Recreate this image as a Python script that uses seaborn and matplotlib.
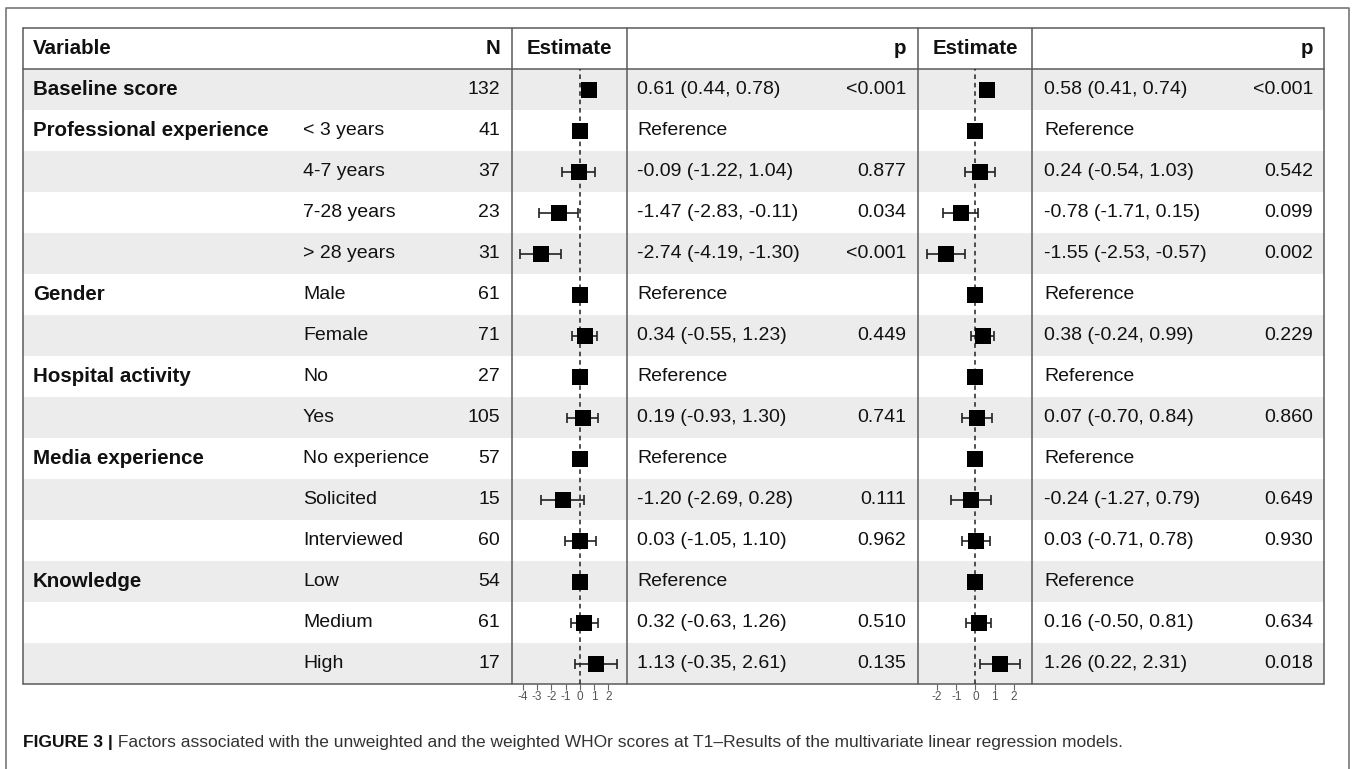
import numpy as np
import pandas as pd
import matplotlib
matplotlib.use('Agg')
import matplotlib.pyplot as plt
import seaborn as sns

# dados da tabela
variaveis = ['Baseline score', 'Professional experience', '', '', '', 'Gender', '',
             'Hospital activity', '', 'Media experience', '', '', 'Knowledge', '', '']
niveis = ['', '< 3 years', '4-7 years', '7-28 years', '> 28 years', 'Male', 'Female',
          'No', 'Yes', 'No experience', 'Solicited', 'Interviewed', 'Low', 'Medium', 'High']
n = [132, 41, 37, 23, 31, 61, 71, 27, 105, 57, 15, 60, 54, 61, 17]

# modelo 1 (nao ponderado)
est1 = [0.61, 0, -0.09, -1.47, -2.74, 0, 0.34, 0, 0.19, 0, -1.20, 0.03, 0, 0.32, 1.13]
lo1 = [0.44, np.nan, -1.22, -2.83, -4.19, np.nan, -0.55, np.nan, -0.93, np.nan, -2.69, -1.05, np.nan, -0.63, -0.35]
hi1 = [0.78, np.nan, 1.04, -0.11, -1.30, np.nan, 1.23, np.nan, 1.30, np.nan, 0.28, 1.10, np.nan, 1.26, 2.61]
p1 = ['<0.001', '', '0.877', '0.034', '<0.001', '', '0.449', '', '0.741', '', '0.111', '0.962', '', '0.510', '0.135']

# modelo 2 (ponderado)
est2 = [0.58, 0, 0.24, -0.78, -1.55, 0, 0.38, 0, 0.07, 0, -0.24, 0.03, 0, 0.16, 1.26]
lo2 = [0.41, np.nan, -0.54, -1.71, -2.53, np.nan, -0.24, np.nan, -0.70, np.nan, -1.27, -0.71, np.nan, -0.50, 0.22]
hi2 = [0.74, np.nan, 1.03, 0.15, -0.57, np.nan, 0.99, np.nan, 0.84, np.nan, 0.79, 0.78, np.nan, 0.81, 2.31]
p2 = ['<0.001', '', '0.542', '0.099', '0.002', '', '0.229', '', '0.860', '', '0.649', '0.930', '', '0.634', '0.018']

ticks1 = [-4, -3, -2, -1, 0, 1, 2]
ticks2 = [-2, -1, 0, 1, 2]

caption_bold = 'FIGURE 3 |'
caption = ' Factors associated with the unweighted and the weighted WHOr scores at T1\u2013Results of the multivariate linear regression models.'

sns.set_theme(style='white')
plt.rcParams['font.family'] = ['Liberation Sans', 'DejaVu Sans']

W, H = 1355, 769
fig = plt.figure(figsize=(W / 100, H / 100), dpi=100)
bg = fig.add_axes([0, 0, 1, 1])
bg.set_xlim(0, W)
bg.set_ylim(H, 0)
bg.axis('off')

# geometria da tabela (pixels)
top, head_h, row_h = 28, 41, 41
nrows = len(n)
y0 = top + head_h
bottom = y0 + nrows * row_h
left, right = 23, 1324
c_est1, c_txt1, c_est2, c_txt2 = 512, 627, 918, 1032
linecol = '#5a5a5a'
txtcol = '#111111'
fs = 14
fsb = 14.8

# moldura externa
bg.plot([6, 6, 1349, 1349], [H, 8, 8, H], color='#777777', lw=1.2)

# faixas cinza alternadas
for i in range(0, nrows, 2):
    bg.add_patch(plt.Rectangle((left, y0 + i * row_h), right - left, row_h,
                               facecolor='#ececec', edgecolor='none', zorder=0))

# linhas da tabela
for x in [left, c_est1, c_txt1, c_est2, c_txt2, right]:
    bg.plot([x, x], [top, bottom], color=linecol, lw=1.1, zorder=2)
for y in [top, y0, bottom]:
    bg.plot([left, right], [y, y], color=linecol, lw=1.1, zorder=2)

# cabecalho
hy = top + head_h / 2
bg.text(33, hy, 'Variable', fontsize=fsb, fontweight='bold', va='center', color=txtcol)
bg.text(500, hy, 'N', fontsize=fsb, fontweight='bold', va='center', ha='right', color=txtcol)
bg.text((c_est1 + c_txt1) / 2, hy, 'Estimate', fontsize=fsb, fontweight='bold', va='center', ha='center', color=txtcol)
bg.text(906, hy, 'p', fontsize=fsb, fontweight='bold', va='center', ha='right', color=txtcol)
bg.text((c_est2 + c_txt2) / 2, hy, 'Estimate', fontsize=fsb, fontweight='bold', va='center', ha='center', color=txtcol)
bg.text(1313, hy, 'p', fontsize=fsb, fontweight='bold', va='center', ha='right', color=txtcol)


def fmt(e, l, h):
    if np.isnan(l):
        return 'Reference'
    return '{:.2f} ({:.2f}, {:.2f})'.format(e, l, h)


for i in range(nrows):
    yc = y0 + i * row_h + row_h / 2
    bg.text(33, yc, variaveis[i], fontsize=fsb, fontweight='bold', va='center', color=txtcol)
    bg.text(303, yc, niveis[i], fontsize=fs, va='center', color=txtcol)
    bg.text(500, yc, str(n[i]), fontsize=fs, va='center', ha='right', color=txtcol)
    bg.text(637, yc, fmt(est1[i], lo1[i], hi1[i]), fontsize=fs, va='center', color=txtcol)
    bg.text(906, yc, p1[i], fontsize=fs, va='center', ha='right', color=txtcol)
    bg.text(1044, yc, fmt(est2[i], lo2[i], hi2[i]), fontsize=fs, va='center', color=txtcol)
    bg.text(1313, yc, p2[i], fontsize=fs, va='center', ha='right', color=txtcol)

# legenda da figura
t1 = bg.text(23, 742, caption_bold, fontsize=12.5, fontweight='bold', va='center',
             family=['Liberation Sans Narrow', 'Liberation Sans'], color=txtcol)
bg.annotate(caption, xy=(1, 0), xycoords=t1, va='bottom', ha='left', fontsize=12.5,
            family=['Liberation Sans Narrow', 'Liberation Sans'], color='#333333')


def forest(x0, x1, est, lo, hi, xlim, ticks):
    ax = fig.add_axes([x0 / W, 1 - bottom / H, (x1 - x0) / W, (bottom - y0) / H])
    ax.set_facecolor('none')
    df = pd.DataFrame({'est': est, 'lo': lo, 'hi': hi, 'row': np.arange(nrows)})
    ax.axvline(0, color='#222222', lw=1.1, ls=(0, (3, 2.5)), zorder=1)
    ok = df.dropna()
    ax.errorbar(ok['est'], ok['row'], xerr=[ok['est'] - ok['lo'], ok['hi'] - ok['est']],
                fmt='none', ecolor='#222222', elinewidth=1.2, capsize=3.5, capthick=1.2, zorder=2)
    sns.scatterplot(data=df, x='est', y='row', marker='s', s=140, color='black',
                    edgecolor='black', linewidth=0, ax=ax, zorder=3)
    ax.set_xlim(*xlim)
    ax.set_ylim(nrows - 0.5, -0.5)
    ax.set_yticks([])
    ax.set_xticks(ticks)
    ax.set_xticklabels([str(t) for t in ticks], family=['Liberation Sans Narrow', 'Liberation Sans'])
    ax.tick_params(axis='x', length=4, width=0.8, color='#666666', labelsize=8.5,
                   labelcolor='#555555', pad=1, bottom=True)
    ax.set_xlabel('')
    ax.set_ylabel('')
    for s in ax.spines.values():
        s.set_visible(False)
    return ax


forest(c_est1, c_txt1, est1, lo1, hi1, (-4.75, 3.3), ticks1)
forest(c_est2, c_txt2, est2, lo2, hi2, (-3.0, 2.95), ticks2)

plt.savefig('out.png', dpi=100)
